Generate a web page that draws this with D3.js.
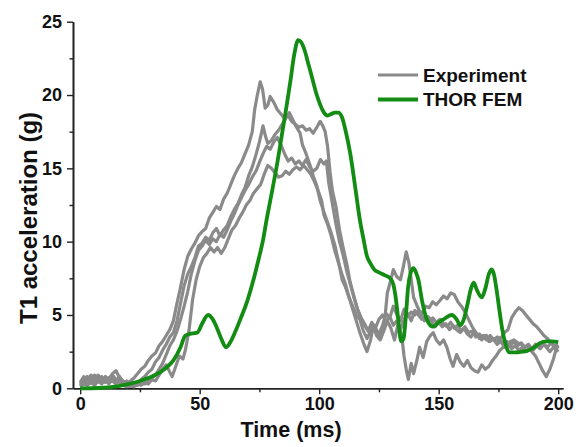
<!DOCTYPE html>
<html>
<head>
<meta charset="utf-8">
<script src="https://cdn.jsdelivr.net/npm/d3@7"></script>
<style>
  html, body { margin: 0; padding: 0; background: #fff; }
  svg { display: block; }
  text { font-family: "Liberation Sans", Arial, sans-serif; font-weight: bold; fill: #111; }
</style>
</head>
<body>
<svg id="chart" width="578" height="447"></svg>
<script>
// Axis ticks
const xMajorTicks = [0, 50, 100, 150, 200];
const xMinorTicks = [25, 75, 125, 175];
const yMajorTicks = [0, 5, 10, 15, 20, 25];
const yMinorTicks = [2.5, 7.5, 12.5, 17.5, 22.5];

// Legend entries
const seriesNames = ["Experiment", "THOR FEM"];

// Experimental T1 acceleration traces: [time (ms), acceleration (g)]
const exp1 = [[0,0.4],[1.5,0.8],[3,0.5],[4.5,0.9],[6,0.6],[7.5,0.9],[9,0.5],[10.5,0.8],[12,0.6],[13.5,1.0],[15,1.2],[16.5,0.7],[18,0.5],[19.5,0.3],[21,0.5],[22.5,0.7],[24,1.0],[25.5,1.3],[27,1.5],[28.5,1.9],[30,2.2],[31.5,2.4],[33,2.9],[34.5,3.2],[36,3.6],[37.5,4.0],[39,4.6],[40.5,5.8],[42,6.9],[43.5,8.1],[45,9.0],[46.5,9.5],[48,9.9],[49.5,10.4],[51,10.7],[52.5,10.9],[54,11.6],[55.5,12.0],[57,12.4],[58.5,12.2],[60,12.9],[61.5,13.3],[63,13.9],[64.5,14.5],[66,15.0],[67.5,15.4],[69,16.0],[70.5,16.6],[72,17.5],[73,19.0],[74,19.9],[75.3,20.9],[76.3,20.4],[77.4,19.1],[78.5,19.3],[79.5,19.9],[81,19.5],[82.5,19.0],[84,18.7],[85.5,18.4],[87,18.6],[88.5,18.2],[90,18.0],[91.5,17.8],[93,17.9],[94.5,17.6],[96,17.7],[97.5,17.4],[99,17.8],[100.4,18.2],[101.5,17.9],[102.5,17.5],[103.5,16.5],[104.5,14.8],[105.5,13.5],[107,12.4],[108.5,10.8],[110,9.6],[111.5,8.5],[113,7.2],[114.5,6.3],[116,5.4],[117.5,4.8],[119,4.4],[120.5,3.9],[122,4.4],[123.5,4.0],[125,3.7],[126.5,4.3],[128,5.1],[129.5,4.8],[131,5.6],[132.5,5.0],[134,4.6],[135.5,5.4],[137,4.9],[138.5,5.2],[140,5.0],[141.5,5.3],[143,5.1],[144.5,5.6],[146,5.5],[147.5,5.9],[149,5.7],[150.6,6.0],[152,6.3],[153.5,6.1],[155,6.5],[156.5,6.4],[158,5.9],[159.5,5.6],[161,5.2],[162.5,4.7],[164,4.2],[165.5,3.8],[167,3.4],[168.5,3.6],[170,3.3],[171.5,3.6],[173,3.3],[174.5,3.5],[176,3.4],[177.5,3.8],[179,4.0],[180.5,4.8],[182,5.2],[183.5,5.5],[185,5.3],[186.5,5.0],[188,4.7],[189.5,4.4],[191,4.2],[192.5,3.9],[194,3.6],[195.5,3.4],[197,3.1],[198.5,2.8],[200,2.5]];

const exp2 = [[0,0.2],[1.5,0.5],[3,0.3],[4.5,0.6],[6,0.4],[7.5,0.7],[9,0.4],[10.5,0.6],[12,0.3],[13.5,0.7],[15,0.5],[16.5,0.8],[18,0.4],[19.5,0.2],[21,0.3],[22.5,0.4],[24,0.3],[25.5,0.6],[27,0.8],[28.5,1.1],[30,1.3],[31.5,1.8],[33,2.1],[34.5,2.6],[36,3.0],[37.5,3.5],[39,3.8],[40.5,4.6],[42,5.8],[43.5,7.0],[45,7.8],[46.5,8.3],[48,8.9],[49.5,9.7],[51,9.9],[52.5,10.3],[54,10.1],[55.5,10.6],[57,10.9],[58.5,10.4],[60,10.8],[61.5,11.1],[63,11.7],[64.5,12.2],[66,12.6],[67.5,13.2],[69,13.7],[70.5,14.5],[72,15.1],[73.5,15.9],[75,16.8],[76.5,17.9],[77.5,17.2],[78.5,16.7],[80,16.9],[81.5,17.3],[83,17.6],[84.5,18.0],[86,18.4],[87.5,18.8],[89,18.3],[90.5,17.8],[92,17.4],[93,16.6],[94.5,16.0],[96,15.3],[97.5,14.5],[99,13.8],[100.4,12.8],[102,12.0],[103.5,11.3],[105,10.6],[106.5,9.8],[108,8.7],[109.6,7.4],[111,6.9],[112.5,6.2],[114,5.6],[115.5,5.0],[117,4.7],[118.5,3.9],[120,3.4],[121.5,3.9],[123,4.3],[124.5,3.8],[126,3.5],[127.5,4.8],[128.5,6.5],[130,7.4],[131,8.1],[132.5,7.6],[134,7.4],[135.2,8.3],[136.4,9.3],[137.5,8.6],[138.5,7.4],[139.5,6.2],[141,5.6],[142.5,5.1],[144,4.6],[145.5,4.9],[147,4.6],[148.5,4.2],[150,4.5],[151.5,4.2],[153,4.4],[154.5,4.0],[156,4.3],[157.5,4.0],[159,3.8],[160.5,4.1],[162,3.7],[163.5,3.5],[165,3.9],[166.5,3.6],[168,3.3],[169.5,3.6],[171,3.2],[172.5,3.4],[174,3.1],[175.5,3.4],[177,3.0],[178.5,3.2],[180,2.9],[181.5,3.2],[183,2.9],[184.5,3.1],[186,2.8],[187.5,3.0],[189,2.7],[190.5,3.0],[192,2.8],[193.5,3.1],[195,2.8],[196.5,2.5],[198,2.8],[199.5,2.6]];

const exp3 = [[0,0.1],[1.5,0.3],[3,0.2],[4.5,0.4],[6,0.2],[7.5,0.5],[9,0.3],[10.5,0.6],[12,0.4],[13.5,0.5],[15,0.3],[16.5,0.6],[18,0.2],[19.5,0.1],[21,0.2],[22.5,0.1],[24,0.3],[25.5,0.2],[27,0.4],[28.5,0.3],[30,0.6],[31.5,0.5],[33,0.9],[34.5,1.3],[36,1.6],[37.5,1.1],[38.5,0.8],[40,1.5],[41.5,2.2],[43,2.0],[44,2.6],[45.5,3.9],[47,6.0],[48.5,7.4],[50,8.3],[51.5,8.9],[53,9.2],[54.5,9.6],[56,9.3],[57.5,9.6],[59,9.2],[60.5,9.6],[62,10.2],[63.5,10.8],[65,11.1],[66.5,11.6],[68,12.0],[69.5,12.5],[71,12.8],[72.5,13.3],[74,13.6],[75.5,13.9],[77,14.6],[78.5,15.2],[80,15.0],[81.5,14.7],[83,14.4],[84.5,14.5],[86,14.8],[87.5,14.6],[89,14.9],[90.5,15.1],[92,14.9],[93.5,15.2],[95,14.9],[96.5,14.6],[98,14.1],[99.5,13.5],[101,12.8],[102,11.8],[103.5,11.2],[105,10.4],[106.5,9.4],[108,8.6],[109.5,7.8],[111,7.1],[112.5,6.2],[114,5.4],[115.5,4.6],[117,3.8],[118.5,3.1],[120,2.5],[121.5,3.3],[122.6,4.2],[124,3.6],[125.5,3.3],[127,3.9],[128.5,4.6],[130,4.1],[131.5,3.3],[133,4.4],[134.5,3.6],[135.5,2.2],[136.5,1.2],[137.3,0.6],[138.5,1.7],[139.5,1.0],[141,2.0],[142,2.8],[143.5,2.1],[145,3.2],[146.5,3.6],[147.7,3.8],[149,3.3],[150.5,3.0],[152,3.3],[153.4,2.8],[154.8,2.0],[156,1.5],[157.5,2.3],[159,1.8],[160.5,1.5],[162,1.9],[163.5,1.4],[165,1.2],[166.5,1.1],[168,1.6],[169.5,1.3],[171,1.5],[172.5,1.9],[174,2.2],[175.6,2.6],[177,2.8],[178.5,3.0],[180,3.2],[181.5,3.3],[183,3.1],[184.5,3.0],[186,2.8],[187.5,2.9],[189,2.5],[190.5,2.2],[192,1.7],[193.5,1.2],[195,0.8],[196.5,1.3],[198,2.0],[199,2.6],[200,2.9]];

const exp4 = [[0,0.3],[1.5,0.6],[3,0.8],[4.5,0.5],[6,0.9],[7.5,0.6],[9,0.8],[10.5,0.4],[12,0.7],[13.5,0.9],[15,0.6],[16.5,0.4],[18,0.3],[19.5,0.5],[21,0.2],[22.5,0.3],[24,0.2],[25.5,0.4],[27,0.3],[28.5,0.5],[30,0.7],[31.5,0.9],[33,1.3],[34.5,1.7],[36,2.3],[37.5,2.9],[39,3.3],[40.5,3.9],[42,4.7],[43.5,5.6],[45,6.6],[46.5,7.8],[48,8.7],[49.5,9.4],[51,9.7],[52.5,10.1],[54,9.8],[55.5,10.2],[57,10.0],[58.5,10.5],[60,10.3],[61.5,10.8],[63,11.4],[64.5,11.9],[66,12.5],[67.5,13.0],[69,13.5],[70.5,13.9],[72,14.4],[73.5,14.8],[75,15.4],[76.5,16.0],[78,16.5],[79.5,16.3],[81,16.8],[82.5,17.1],[84,16.6],[85.5,16.0],[87,15.5],[88.5,15.7],[90,15.3],[91.5,15.5],[93,15.2],[94.5,15.6],[96,15.1],[97.5,14.8],[99,15.0],[100.5,15.6],[102,15.3],[103,15.5],[104,14.0],[105.5,12.6],[107,11.2],[108.5,10.0],[110,9.1],[111.5,8.0],[113,7.1],[114.5,6.2],[116,5.4],[117.5,4.8],[119,4.3],[120.5,3.9],[122,4.5],[123.5,4.1],[125,4.7],[126.5,5.0],[128,4.5],[129.5,4.9],[131,4.3],[132.5,4.6],[134,4.0],[135.5,4.7],[137,5.1],[138.5,4.6],[140,5.3],[141.5,5.0],[143,4.7],[144.5,4.9],[146,4.6],[147.5,4.8],[149,4.5],[150.5,4.7],[152,4.4],[153.5,4.2],[155,4.5],[156.5,4.1],[158,4.3],[159.5,3.9],[161,4.2],[162.5,3.8],[164,3.9],[165.5,3.5],[167,3.7],[168.5,3.4],[170,3.6],[171.5,3.2],[173,3.4],[174.5,3.0],[176,3.2],[177.5,2.8],[179,3.0],[180.5,2.7],[182,2.9],[183.5,2.6],[185,2.8],[186.5,2.5],[188,2.8],[189.5,2.6],[191,2.9],[192.5,2.7],[194,3.0],[195.5,2.8],[197,3.1],[198.5,2.9],[200,3.0]];

// THOR finite element model response: [time (ms), acceleration (g)]
const thorFem = [[0,0],[8,0.02],[16,0.15],[24,0.45],[30,0.8],[33.5,1.1],[36,1.4],[39,1.9],[42,2.8],[44,3.6],[47,3.75],[49,3.8],[51,4.4],[53.5,5.0],[55.5,4.7],[57,4.2],[59,3.4],[61,2.8],[63,3.2],[65,3.9],[67,4.7],[70,6.0],[72.5,7.4],[74.5,8.7],[76.5,10.1],[78,11.5],[80,13.2],[82.5,15.4],[84.5,17.4],[86.5,19.4],[88,21.0],[89.5,22.7],[91.2,23.75],[92.5,23.6],[94,23.0],[95.5,22.1],[97,21.2],[98.8,20.1],[100.5,19.3],[102,18.8],[103.5,18.6],[105,18.7],[106.5,18.8],[108,18.8],[109.5,18.5],[111,17.6],[113,16.0],[115,13.8],[117,11.5],[118.5,10.2],[120,9.0],[121.5,8.5],[123,8.1],[125,7.9],[127.5,7.7],[129.7,7.5],[131,7.1],[132,6.2],[133,4.8],[134.3,3.2],[135.3,3.4],[136.3,5.0],[137.2,6.9],[138.3,7.9],[139.4,8.2],[140.5,7.9],[141.5,7.4],[143,6.0],[145,4.7],[147.7,4.2],[150,4.5],[152,4.7],[155.5,5.0],[157.5,4.7],[159,4.3],[160.5,4.7],[162,5.7],[163.5,6.8],[164.6,7.2],[166,6.7],[168,6.2],[169.5,6.8],[171,7.8],[172.2,8.1],[173.2,7.7],[174.4,6.5],[175.5,5.2],[176.6,4.0],[178,3.0],[179.5,2.45],[182,2.45],[185,2.5],[187,2.55],[190,2.8],[192.5,3.1],[195,3.2],[197.5,3.2],[200,3.15]];

const experiments = [exp1, exp2, exp3, exp4];

const svg = d3.select("#chart");

const x = d3.scaleLinear().domain([-3, 202]).range([73, 563]);
const y = d3.scaleLinear().domain([0, 25]).range([388.3, 21.7]);

const axisColor = "#222";
const fontFamily = "Liberation Sans, Arial, sans-serif";

// X axis: major ticks with labels, unlabeled minor ticks
const xAxis = svg.append("g").attr("transform", `translate(0,${y(0)})`);
xAxis.call(d3.axisBottom(x).tickValues(xMajorTicks).tickSizeInner(6).tickSizeOuter(0).tickPadding(3).tickFormat(d3.format("d")));
xAxis.append("g").call(d3.axisBottom(x).tickValues(xMinorTicks).tickSizeInner(4).tickSizeOuter(0).tickFormat(""));
xAxis.selectAll(".domain").attr("stroke", axisColor).attr("stroke-width", 1.6);
xAxis.selectAll(".tick line").attr("stroke", axisColor).attr("stroke-width", 1.4);
xAxis.selectAll(".tick text").attr("font-size", 18).attr("font-family", fontFamily).attr("font-weight", "bold").attr("fill", "#111");

// Y axis
const yAxis = svg.append("g").attr("transform", `translate(${x(-3)},0)`);
yAxis.call(d3.axisLeft(y).tickValues(yMajorTicks).tickSizeInner(6).tickSizeOuter(0).tickPadding(5).tickFormat(d3.format("d")));
yAxis.append("g").call(d3.axisLeft(y).tickValues(yMinorTicks).tickSizeInner(3.5).tickSizeOuter(0).tickFormat(""));
yAxis.selectAll(".domain").attr("stroke", axisColor).attr("stroke-width", 1.6);
yAxis.selectAll(".tick line").attr("stroke", axisColor).attr("stroke-width", 1.4);
yAxis.selectAll(".tick text").attr("font-size", 18).attr("font-family", fontFamily).attr("font-weight", "bold").attr("fill", "#111");

// Axis titles
svg.append("text")
  .attr("x", 291).attr("y", 437)
  .attr("text-anchor", "middle")
  .attr("font-size", 21.5)
  .text("Time (ms)");

svg.append("text")
  .attr("transform", `translate(37,218) rotate(-90)`)
  .attr("text-anchor", "middle")
  .attr("font-size", 24)
  .text("T1 acceleration (g)");

// Curves
const line = d3.line().x(d => x(d[0])).y(d => y(d[1]));
const smooth = d3.line().x(d => x(d[0])).y(d => y(d[1])).curve(d3.curveMonotoneX);

const grey = "#8a8a8a";
const green = "#138c13";

svg.append("g")
  .selectAll("path")
  .data(experiments)
  .join("path")
  .attr("d", line)
  .attr("fill", "none")
  .attr("stroke", grey)
  .attr("stroke-width", 3.2)
  .attr("stroke-linejoin", "round");

svg.append("path")
  .datum(thorFem)
  .attr("d", smooth)
  .attr("fill", "none")
  .attr("stroke", green)
  .attr("stroke-width", 3.8)
  .attr("stroke-linejoin", "round");

// Legend
const legend = svg.append("g");
const legendColors = [grey, green];
const legendY = [75, 99.5];
seriesNames.forEach((name, i) => {
  legend.append("line")
    .attr("x1", 378).attr("x2", 418)
    .attr("y1", legendY[i]).attr("y2", legendY[i])
    .attr("stroke", legendColors[i])
    .attr("stroke-width", i === 0 ? 3.2 : 3.8);
  legend.append("text")
    .attr("x", 423).attr("y", legendY[i] + 6.5)
    .attr("font-size", 19)
    .text(name);
});
</script>
</body>
</html>
